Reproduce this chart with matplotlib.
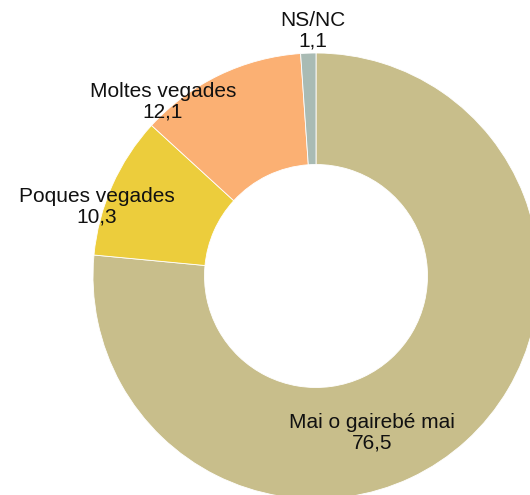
import matplotlib
matplotlib.use("Agg")
import matplotlib.pyplot as plt

categories = ["Mai o gairebé mai", "Poques vegades", "Moltes vegades", "NS/NC"]
values = [76.5, 10.3, 12.1, 1.1]
value_labels = ["76,5", "10,3", "12,1", "1,1"]
colors = ["#C8BE8B", "#ECCD3C", "#FBB073", "#A9BBB4"]

W, H = 530, 495
fig = plt.figure(figsize=(W / 100, H / 100), dpi=100)
ax = fig.add_axes([0, 0, 1, 1])

cx, cy, R = 316, H - 276, 223
hole = 0.5
ax.pie(values, colors=colors, startangle=90, counterclock=False,
       center=(cx, cy), radius=R,
       wedgeprops=dict(width=R * (1 - hole), edgecolor="white", linewidth=0.6))
ax.set_xlim(0, W)
ax.set_ylim(0, H)
ax.set_aspect("equal")
ax.axis("off")

# label offsets from the donut centre (pixels, y up)
label_offsets = [(56, -157), (-219, 69), (-153, 174), (-3, 245)]
for cat, vl, (dx, dy) in zip(categories, value_labels, label_offsets):
    ax.text(cx + dx, cy + dy, f"{cat}\n{vl}", ha="center", va="center",
            fontsize=15, family=["Liberation Sans", "DejaVu Sans"],
            color="#111111", linespacing=1.1)

fig.savefig("out.png", dpi=100)
